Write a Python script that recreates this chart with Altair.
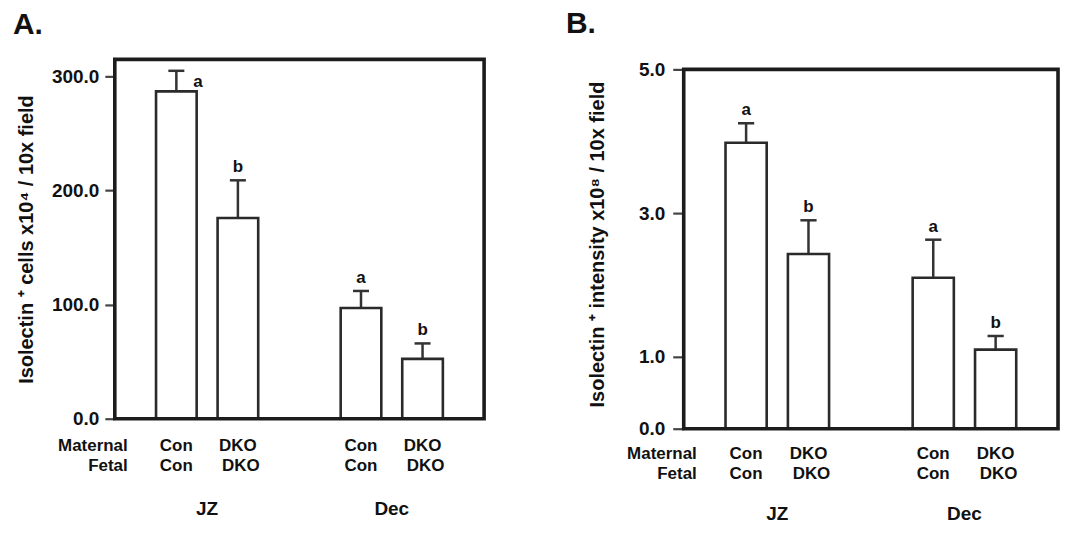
import altair as alt
import pandas as pd

FONT = "Liberation Sans"

# ---- data ----
positions = [1, 2, 4, 5]
maternal = ["Con", "DKO", "Con", "DKO"]
fetal = ["Con", "DKO", "Con", "DKO"]
regions = ["JZ", "Dec"]
region_pos = [1.5, 4.5]
row_names = ["Maternal", "Fetal"]

a_means = [287, 176, 97, 52.5]
a_errtop = [305, 209, 112, 66]
a_letters = ["a", "b", "a", "b"]

b_means = [3.98, 2.43, 2.1, 1.1]
b_errtop = [4.25, 2.9, 2.63, 1.29]
b_letters = ["a", "b", "a", "b"]

a_ticks = [0, 100, 200, 300]
b_ticks = [0, 1, 3, 5]

BAR_HALF = 0.33
CAP_HALF = 0.13


def panel(means, errtop, letters, ticks, frame_top, ymax, title, panel_label, w, h,
          tick_len, label_pad, title_pad, lab_x, lab_y, rows_y, grp_y,
          special_first_letter):
    df = pd.DataFrame({
        "pos": positions,
        "x1": [p - BAR_HALF for p in positions],
        "x2": [p + BAR_HALF for p in positions],
        "c1": [p - CAP_HALF for p in positions],
        "c2": [p + CAP_HALF for p in positions],
        "zero": [0] * len(positions),
        "mean": means,
        "err": errtop,
        "letter": letters,
        "maternal": maternal,
        "fetal": fetal,
        "idx": list(range(len(positions))),
    })
    xs = alt.Scale(domain=[0, 6], nice=False, zero=False)
    ys = alt.Scale(domain=[0, ymax], nice=False)
    yaxis = alt.Axis(
        values=ticks, format=".1f", title=title,
        labelFont=FONT, labelFontSize=19, labelFontWeight="bold", labelColor="#111",
        titleFont=FONT, titleFontSize=20, titleFontWeight="bold", titleColor="#111",
        tickSize=tick_len, tickWidth=2.2, tickColor="#444", labelPadding=label_pad,
        titlePadding=title_pad, domain=False, grid=False,
    )
    base = alt.Chart(df)
    X = lambda f: alt.X(f, scale=xs, axis=None)
    Y = lambda f: alt.Y(f, scale=ys, axis=yaxis)

    err = base.mark_rule(color="#333", strokeWidth=2.5).encode(
        x=X("pos:Q"), y=Y("mean:Q"), y2="err:Q",
    )
    cap = base.mark_rule(color="#333", strokeWidth=2.5).encode(
        x=X("c1:Q"), x2="c2:Q", y=Y("err:Q"),
    )
    bars = base.mark_bar(fill="white", stroke="#2a2a2a", strokeWidth=2.6).encode(
        x=X("x1:Q"), x2="x2:Q", y=Y("mean:Q"), y2="zero:Q",
    )
    framedf = pd.DataFrame({"fx0": [0], "fx1": [6], "fy0": [0], "fy1": [frame_top]})
    frame = alt.Chart(framedf).mark_rect(
        fill="transparent", stroke="#1c1c1c", strokeWidth=3.6
    ).encode(x=X("fx0:Q"), x2="fx1:Q", y=Y("fy0:Q"), y2="fy1:Q")

    txt = dict(font=FONT, fontWeight="bold", color="#111")
    if special_first_letter:
        letters_main = base.transform_filter("datum.idx > 0").mark_text(
            fontSize=17, baseline="alphabetic", dy=-8, **txt
        ).encode(x=X("pos:Q"), y=Y("err:Q"), text="letter:N")
        letters_sp = base.transform_filter("datum.idx == 0").mark_text(
            fontSize=17, baseline="alphabetic", align="left", dx=17, dy=16, **txt
        ).encode(x=X("pos:Q"), y=Y("err:Q"), text="letter:N")
        letter_layers = [letters_main, letters_sp]
    else:
        letter_layers = [base.mark_text(
            fontSize=17, baseline="alphabetic", dy=-8, **txt
        ).encode(x=X("pos:Q"), y=Y("err:Q"), text="letter:N")]

    mat = base.mark_text(fontSize=17, baseline="middle", **txt).encode(
        x=X("pos:Q"), y=alt.value(rows_y[0]), text="maternal:N")
    fet1 = base.transform_filter("datum.fetal == 'Con'").mark_text(
        fontSize=17, baseline="middle", **txt).encode(
        x=X("pos:Q"), y=alt.value(rows_y[1]), text="fetal:N")
    fet2 = base.transform_filter("datum.fetal == 'DKO'").mark_text(
        fontSize=17, baseline="middle", dx=3, **txt).encode(
        x=X("pos:Q"), y=alt.value(rows_y[1]), text="fetal:N")

    rowdf = pd.DataFrame({"name": row_names, "x": [0.21, 0.21]})
    row1 = alt.Chart(rowdf).transform_filter("datum.name == 'Maternal'").mark_text(
        fontSize=17, baseline="middle", align="right", **txt).encode(
        x=X("x:Q"), y=alt.value(rows_y[0]), text="name:N")
    row2 = alt.Chart(rowdf).transform_filter("datum.name == 'Fetal'").mark_text(
        fontSize=17, baseline="middle", align="right", **txt).encode(
        x=X("x:Q"), y=alt.value(rows_y[1]), text="name:N")

    grpdf = pd.DataFrame({"name": regions, "pos": region_pos})
    grp = alt.Chart(grpdf).mark_text(fontSize=19, baseline="middle", **txt).encode(
        x=X("pos:Q"), y=alt.value(grp_y), text="name:N")

    pl = alt.Chart(pd.DataFrame({"t": [panel_label]})).mark_text(
        fontSize=30, align="left", baseline="alphabetic", **txt).encode(
        x=alt.value(lab_x), y=alt.value(lab_y), text="t:N")

    return alt.layer(err, cap, bars, *letter_layers, frame, mat, fet1, fet2,
                     row1, row2, grp, pl).properties(width=w, height=h)


# Panel A: view top = frame top, 360 px tall
A = panel(a_means, a_errtop, a_letters, a_ticks, 315, 315,
          "Isolectin \u207a cells x10\u2074 / 10x field", "A.", 370, 360,
          10, 6, 15, -102, -25, [387, 407], 450, True)
# Panel B: view 10 px taller, frame top 10 px below view top (72 px per unit)
B = panel(b_means, b_errtop, b_letters, b_ticks, 5, 5 * 370 / 360,
          "Isolectin \u207a intensity x10\u2078 / 10x field", "B.", 375, 370,
          11, 8, 31, -118, -26, [395, 415], 455, False)

chart = alt.hconcat(A, B, spacing=80).configure_view(
    strokeWidth=0
).properties(background="white", padding={"left": 5, "top": 1, "right": 5, "bottom": 5})

chart.save("out.html", embed_options={"renderer": "svg", "actions": False})
